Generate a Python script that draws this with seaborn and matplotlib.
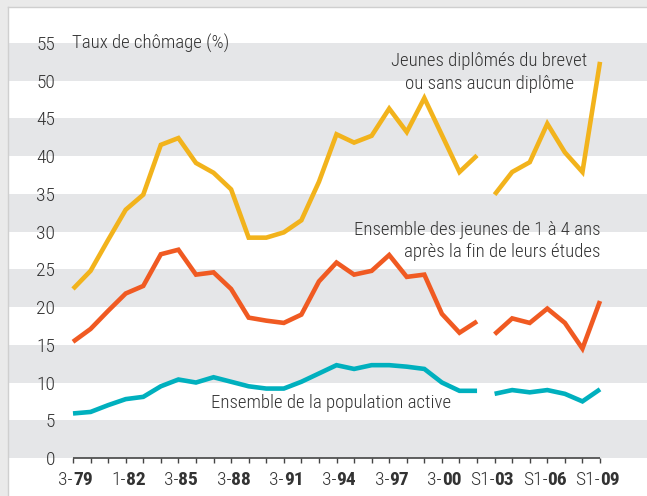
import numpy as np
import pandas as pd
import seaborn as sns
import matplotlib.pyplot as plt
from matplotlib import font_manager as fm

annees = list(range(1979, 2010))

jeunes_peu_diplomes = [22.4, 24.8, 28.9, 32.9, 34.9, 41.5, 42.4, 39.1, 37.8, 35.6,
                       29.2, 29.2, 29.9, 31.5, 36.6, 42.9, 41.8, 42.7, 46.3, 43.2,
                       47.7, 42.8, 37.9, 40.1, 34.9, 37.9, 39.2, 44.3, 40.5, 37.9, 52.5]
jeunes_1_4_ans = [15.4, 17.1, 19.5, 21.8, 22.8, 27.0, 27.6, 24.3, 24.6, 22.4,
                  18.6, 18.2, 17.9, 19.0, 23.4, 25.9, 24.3, 24.8, 26.9, 24.0,
                  24.3, 19.1, 16.6, 18.1, 16.4, 18.5, 17.9, 19.8, 17.9, 14.5, 20.8]
population_active = [5.9, 6.1, 7.0, 7.8, 8.1, 9.5, 10.4, 10.0, 10.7, 10.1,
                     9.5, 9.2, 9.2, 10.1, 11.2, 12.3, 11.8, 12.3, 12.3, 12.1,
                     11.8, 10.0, 8.9, 8.9, 8.5, 9.0, 8.7, 9.0, 8.5, 7.5, 9.1]

# rupture de série entre 2002 et 2003
segment = ['ancienne' if a <= 2002 else 'nouvelle' for a in annees]

labels_annees = [1979, 1982, 1985, 1988, 1991, 1994, 1997, 2000, 2003, 2006, 2009]
labels_prefixe = ['3-', '1-', '3-', '3-', '3-', '3-', '3-', '3-', 'S1-', 'S1-', 'S1-']
labels_annee = ['79', '82', '85', '88', '91', '94', '97', '00', '03', '06', '09']

couleurs = {'brevet': '#F2B31C', 'jeunes': '#F05A22', 'active': '#00B0BE'}

df = pd.concat([
    pd.DataFrame({'annee': annees, 'taux': jeunes_peu_diplomes, 'serie': 'brevet', 'segment': segment}),
    pd.DataFrame({'annee': annees, 'taux': jeunes_1_4_ans, 'serie': 'jeunes', 'segment': segment}),
    pd.DataFrame({'annee': annees, 'taux': population_active, 'serie': 'active', 'segment': segment}),
])

# police étroite si disponible
dispo = {f.name for f in fm.fontManager.ttflist}
candidats = ['Roboto Condensed', 'Archivo Narrow', 'PT Sans Narrow', 'Liberation Sans Narrow',
             'Open Sans Condensed', 'Fira Sans Condensed', 'IBM Plex Sans Condensed', 'Asap Condensed']
etroite = next((c for c in candidats if c in dispo), None)
police = [etroite, 'DejaVu Sans'] if etroite else ['DejaVu Sans']
taille = 13.5 if etroite else 10.5

sns.set_style('white')
plt.rcParams['font.family'] = police
gris_texte = '#333333'

fig = plt.figure(figsize=(6.47, 4.96), dpi=100, facecolor='#EAEAEA')
ax = fig.add_axes([8 / 647, 0, 639 / 647, 489 / 496])
ax.set_facecolor('white')

# bandes grises
for bas in range(0, 55, 10):
    ax.axhspan(bas, bas + 5, color='#E5E6E8', lw=0, zorder=0)

sns.lineplot(data=df, x='annee', y='taux', hue='serie', units='segment', estimator=None,
             palette=couleurs, linewidth=3.3, legend=False, ax=ax,
             solid_joinstyle='miter', solid_capstyle='butt', zorder=3)

ax.set_xlim(1975.30, 2011.675)
ax.set_ylim(-5.04, 59.77)
ax.set_xlabel('')
ax.set_ylabel('')

# axe des abscisses
ax.hlines(0, annees[0], annees[-1], color='#444444', lw=1.2, zorder=2)
ax.vlines(annees, -0.7, 0, color='#444444', lw=1.0, zorder=2)
ax.set_xticks([])
for a, p, s in zip(labels_annees, labels_prefixe, labels_annee):
    ax.text(a, -2.9, p, ha='right', va='center', fontsize=taille + 0.5, color=gris_texte,
            fontweight='light')
    ax.text(a, -2.9, s, ha='left', va='center', fontsize=taille + 0.5, color=gris_texte,
            fontweight='bold')

ax.set_yticks(range(0, 60, 5))
ax.tick_params(axis='y', length=0, pad=-34, labelsize=taille + 0.5, labelcolor=gris_texte)
for lab in ax.get_yticklabels():
    lab.set_horizontalalignment('right')
    lab.set_fontweight('light')

for cote in ['right', 'bottom']:
    ax.spines[cote].set_visible(False)
for cote in ['left', 'top']:
    ax.spines[cote].set_color('#CFCFCF')
    ax.spines[cote].set_linewidth(1.0)

style = dict(fontsize=taille, color=gris_texte, fontweight='light')
ax.text(1978.95, 55, 'Taux de chômage (%)', ha='left', va='center', **style)
ax.text(2002.7, 51.1, 'Jeunes diplômés du brevet\nou sans aucun diplôme', ha='center', va='center',
        linespacing=1.3, **style)
ax.text(2009.0, 28.8, 'Ensemble des jeunes de 1 à 4 ans\naprès la fin de leurs études', ha='right',
        va='center', linespacing=1.3, **style)
ax.text(1986.85, 7.3, 'Ensemble de la population active', ha='left', va='center', **style)

fig.savefig('out.png', dpi=100, facecolor=fig.get_facecolor())
